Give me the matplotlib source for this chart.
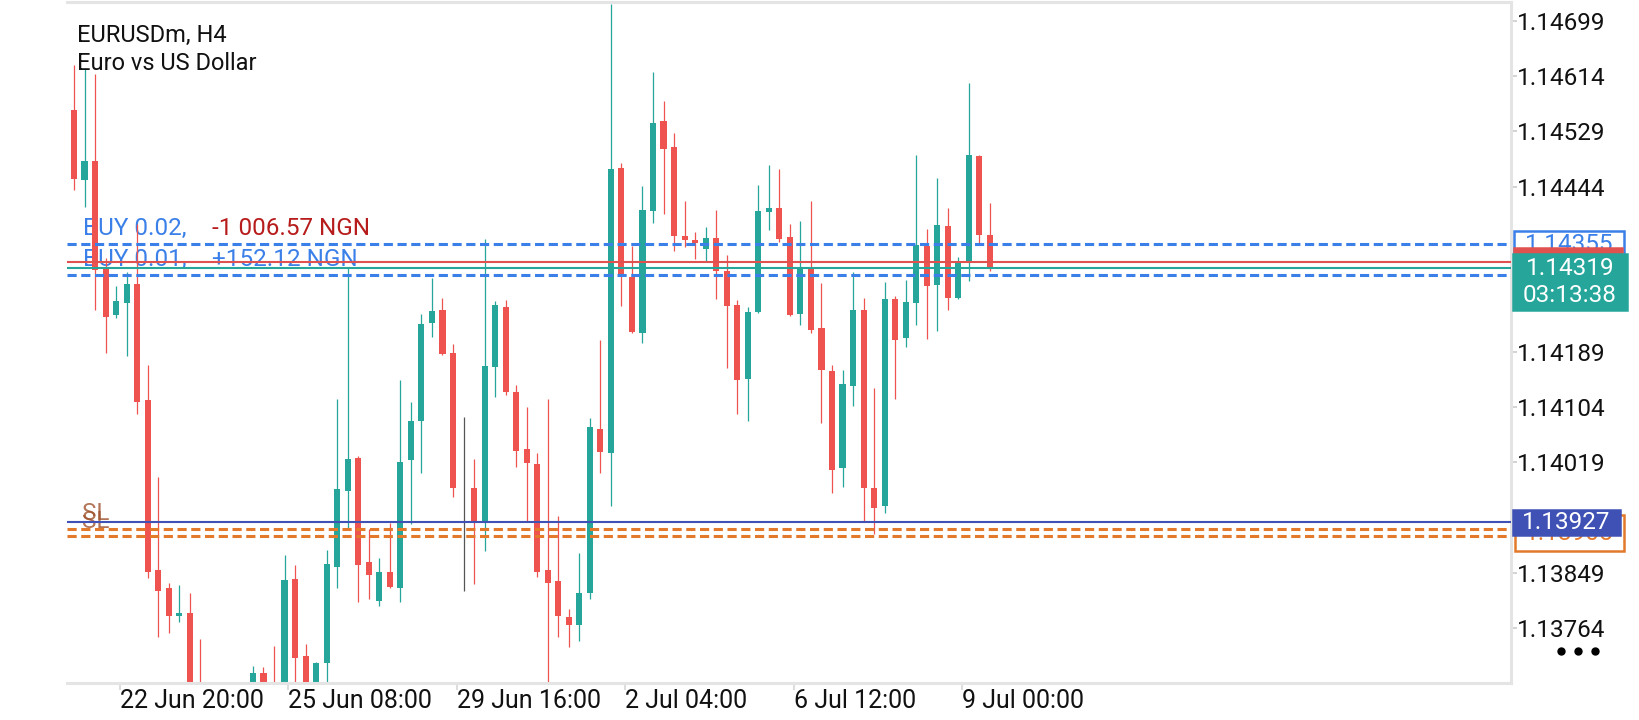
import matplotlib
matplotlib.use('Agg')
import matplotlib.pyplot as plt
from matplotlib.patches import Rectangle
from matplotlib.lines import Line2D

# EURUSDm H4 candles
opens = [1.14562, 1.14454, 1.14483, 1.14320, 1.14246, 1.14265, 1.14294, 1.14115, 1.13853, 1.13825,
         1.13782, 1.13787, 1.13655, 1.13590, 1.13620, 1.13580, 1.13630, 1.13660, 1.13695, 1.13660,
         1.13600, 1.13839, 1.13720, 1.13645, 1.13710, 1.13858, 1.13975, 1.14026, 1.13866, 1.13806,
         1.13850, 1.13826, 1.14022, 1.14082, 1.14233, 1.14254, 1.14187, 1.13982, 1.13979, 1.13925,
         1.14166, 1.14258, 1.14127, 1.14040, 1.14016, 1.13853, 1.13836, 1.13781, 1.13768, 1.13818,
         1.14071, 1.14034, 1.14472, 1.14304, 1.14219, 1.14407, 1.14545, 1.14505, 1.14368, 1.14362,
         1.14347, 1.14364, 1.14314, 1.14261, 1.14148, 1.14251, 1.14404, 1.14411, 1.14366, 1.14248,
         1.14320, 1.14226, 1.14160, 1.14011, 1.14137, 1.14254, 1.13979, 1.13951, 1.14271, 1.14210,
         1.14265, 1.14352, 1.14293, 1.14383, 1.14273, 1.14328, 1.14491, 1.14369]
highs = [1.14632, 1.14627, 1.14617, 1.14334, 1.14291, 1.14313, 1.14387, 1.14169, 1.13997, 1.13833,
         1.13830, 1.13817, 1.13747, 1.13640, 1.13660, 1.13650, 1.13670, 1.13705, 1.13703, 1.13736,
         1.13876, 1.13860, 1.13739, 1.13712, 1.13884, 1.14117, 1.14320, 1.14029, 1.13917, 1.13871,
         1.13926, 1.14146, 1.14112, 1.14248, 1.14303, 1.14272, 1.14201, 1.14089, 1.14024, 1.14363,
         1.14268, 1.14269, 1.14138, 1.14105, 1.14034, 1.14117, 1.13936, 1.13793, 1.13879, 1.14087,
         1.14208, 1.14725, 1.14480, 1.14353, 1.14445, 1.14621, 1.14576, 1.14526, 1.14421, 1.14374,
         1.14381, 1.14408, 1.14339, 1.14269, 1.14258, 1.14446, 1.14477, 1.14471, 1.14387, 1.14391,
         1.14421, 1.14295, 1.14169, 1.14161, 1.14313, 1.14273, 1.14133, 1.14297, 1.14276, 1.14300,
         1.14493, 1.14378, 1.14457, 1.14411, 1.14335, 1.14603, 1.14492, 1.14419]
lows = [1.14439, 1.14413, 1.14253, 1.14188, 1.14242, 1.14183, 1.14093, 1.13840, 1.13750, 1.13756,
        1.13773, 1.13610, 1.13565, 1.13540, 1.13560, 1.13550, 1.13600, 1.13645, 1.13630, 1.13570,
        1.13590, 1.13660, 1.13620, 1.13630, 1.13681, 1.13825, 1.13917, 1.13804, 1.13808, 1.13798,
        1.13825, 1.13804, 1.13924, 1.14002, 1.14212, 1.14184, 1.13966, 1.13820, 1.13831, 1.13883,
        1.14119, 1.14122, 1.14012, 1.13928, 1.13843, 1.13675, 1.13750, 1.13735, 1.13744, 1.13809,
        1.14002, 1.13952, 1.14260, 1.14218, 1.14203, 1.14388, 1.14402, 1.14345, 1.14351, 1.14332,
        1.14329, 1.14271, 1.14164, 1.14094, 1.14082, 1.14249, 1.14377, 1.14358, 1.14245, 1.14231,
        1.14218, 1.14079, 1.13972, 1.13981, 1.14106, 1.13928, 1.13908, 1.13941, 1.14117, 1.14197,
        1.14230, 1.14209, 1.14221, 1.14253, 1.14271, 1.14299, 1.14354, 1.14314]
closes = [1.14456, 1.14483, 1.14316, 1.14243, 1.14268, 1.14294, 1.14112, 1.13850, 1.13821, 1.13782,
          1.13787, 1.13640, 1.13590, 1.13620, 1.13580, 1.13630, 1.13660, 1.13695, 1.13650, 1.13600,
          1.13838, 1.13718, 1.13640, 1.13710, 1.13862, 1.13978, 1.14024, 1.13861, 1.13845, 1.13850,
          1.13827, 1.14020, 1.14083, 1.14232, 1.14252, 1.14186, 1.13980, 1.13982, 1.13928, 1.14167,
          1.14261, 1.14127, 1.14037, 1.14018, 1.13850, 1.13833, 1.13782, 1.13768, 1.13817, 1.14073,
          1.14035, 1.14471, 1.14304, 1.14220, 1.14408, 1.14542, 1.14502, 1.14368, 1.14361, 1.14357,
          1.14364, 1.14314, 1.14260, 1.14146, 1.14250, 1.14406, 1.14411, 1.14363, 1.14246, 1.14320,
          1.14223, 1.14162, 1.14007, 1.14140, 1.14254, 1.13980, 1.13948, 1.14271, 1.14208, 1.14266,
          1.14354, 1.14290, 1.14385, 1.14273, 1.14328, 1.14493, 1.14369, 1.14319]

date_labels = ['22 Jun 20:00', '25 Jun 08:00', '29 Jun 16:00', '2 Jul 04:00', '6 Jul 12:00', '9 Jul 00:00']
date_bars = [4, 20, 36, 52, 68, 84]
price_ticks = [1.14699, 1.14614, 1.14529, 1.14444, 1.14189, 1.14104, 1.14019, 1.13849, 1.13764]

buy_levels = [1.14355, 1.14307]
buy_texts = ['BUY 0.02,', 'BUY 0.01,']
profit_texts = ['-1 006.57 NGN', '+152.12 NGN']
ask = 1.14328
bid = 1.14319
timer = '03:13:38'
hline_level = 1.13927
sl_levels = [1.13916, 1.13905]

up = '#26a69a'
down = '#ef5350'
blue = '#3b80e8'
orange = '#e3792b'
navy = '#3f51b5'

plt.rcParams['font.family'] = ['Roboto', 'DejaVu Sans']
fs = 17.5

fig = plt.figure(figsize=(16.4, 7.2), dpi=100)
ax = fig.add_axes([67/1640, 37/720, 1444/1640, 681/720])
ymin, ymax = 1.136789, 1.147284
ax.set_xlim(-0.665, 136.5)
ax.set_ylim(ymin, ymax)
ppx = (ymax - ymin) / 681  # price per pixel

def xf(px):
    return (px - 67) / 1444

# candles
for i in range(len(opens)):
    o, h, l, c = opens[i], highs[i], lows[i], closes[i]
    if c > o:
        col = up
    elif c < o:
        col = down
    else:
        col = '#555555'
    ax.vlines(i, l, h, color=col, lw=0.9, zorder=2)
    ax.bar(i, max(abs(c - o), 0.000012), bottom=min(o, c), width=0.58, color=col, zorder=2)

# trade / price lines
for lv in buy_levels:
    ax.axhline(lv, color=blue, lw=2.2, ls=(0, (3, 1.5)), zorder=4)
ax.axhline(ask, color='#e0524f', lw=1.5, zorder=4)
ax.axhline(bid, color=up, lw=1.5, zorder=4)
ax.axhline(hline_level, color=navy, lw=1.5, zorder=4)
for lv in sl_levels:
    ax.axhline(lv, color=orange, lw=2.2, ls=(0, (3, 1.5)), zorder=4)

ytr = ax.get_yaxis_transform()
for lv, t1, t2, c2 in zip(buy_levels, buy_texts, profit_texts, ['#b71c1c', blue]):
    ax.annotate(t1, xy=(xf(82.7), lv), xycoords=ytr, xytext=(0, 6.5), textcoords='offset points',
                va='baseline', ha='left', fontsize=fs, color=blue, zorder=1)
    ax.annotate(t2, xy=(xf(212), lv), xycoords=ytr, xytext=(0, 6.5), textcoords='offset points',
                va='baseline', ha='left', fontsize=fs, color=c2, zorder=1)
for lv in sl_levels:
    ax.annotate('SL', xy=(xf(81.7), lv), xycoords=ytr, xytext=(0, 6.3), textcoords='offset points',
                va='baseline', ha='left', fontsize=fs, color='#a0522d', alpha=0.8, zorder=1)

ax.text(xf(76.7), (683 - 42) / 681, 'EURUSDm, H4', transform=ax.transAxes,
        va='baseline', ha='left', fontsize=17, color='#111111')
ax.text(xf(76.7), (683 - 70) / 681, 'Euro vs US Dollar', transform=ax.transAxes,
        va='baseline', ha='left', fontsize=17, color='#111111')

# price labels on the right
def price_box(yc, h, x0, x1, face, edge, text, tcol, z):
    ax.add_patch(Rectangle((xf(x0), yc - h * ppx / 2), xf(x1) - xf(x0), h * ppx, transform=ytr,
                           facecolor=face, edgecolor=edge, lw=1.8, clip_on=False, zorder=z))
    ax.text(xf((x0 + x1) / 2), yc, text, transform=ytr, ha='center', va='center',
            fontsize=fs, color=tcol, clip_on=False, zorder=z + 0.1)

price_box(buy_levels[0], 27, 1514, 1624, 'white', blue, f'{buy_levels[0]:.5f}', blue, 5)
price_box(ask, 27, 1514, 1622, '#e0524f', '#e0524f', '', 'white', 6)
price_box(bid - 14.5 * ppx, 56, 1513, 1627, up, up, f'{bid:.5f}\n{timer}', 'white', 7)
price_box(sl_levels[1] + 3 * ppx, 36, 1515, 1624, 'white', orange, f'{sl_levels[1]:.5f}', orange, 5)
price_box(hline_level, 25, 1513, 1620, navy, navy, f'{hline_level:.5f}', 'white', 6)

fig.add_artist(Line2D([1561/1640, 1578/1640, 1595/1640], [1 - 651/720] * 3, ls='none', marker='o',
                      ms=5, color='black', transform=fig.transFigure))

# axes
ax.yaxis.tick_right()
ax.set_yticks(price_ticks, [f'{v:.5f}' for v in price_ticks])
ax.set_xticks([b + 0.37 for b in date_bars], date_labels)
for lab in ax.get_xticklabels():
    lab.set_horizontalalignment('left')
ax.tick_params(axis='y', length=4, width=1.2, color='#cccccc', pad=0.5, labelsize=fs, labelcolor='#111111')
ax.tick_params(axis='x', length=5, width=1.5, color='#dddddd', pad=-1, labelsize=18, labelcolor='#111111')
ax.spines['left'].set_visible(False)
for s in ['top', 'bottom', 'right']:
    ax.spines[s].set_color('#e4e4e4')
    ax.spines[s].set_linewidth(2.2)

fig.savefig('out.png', dpi=100)
